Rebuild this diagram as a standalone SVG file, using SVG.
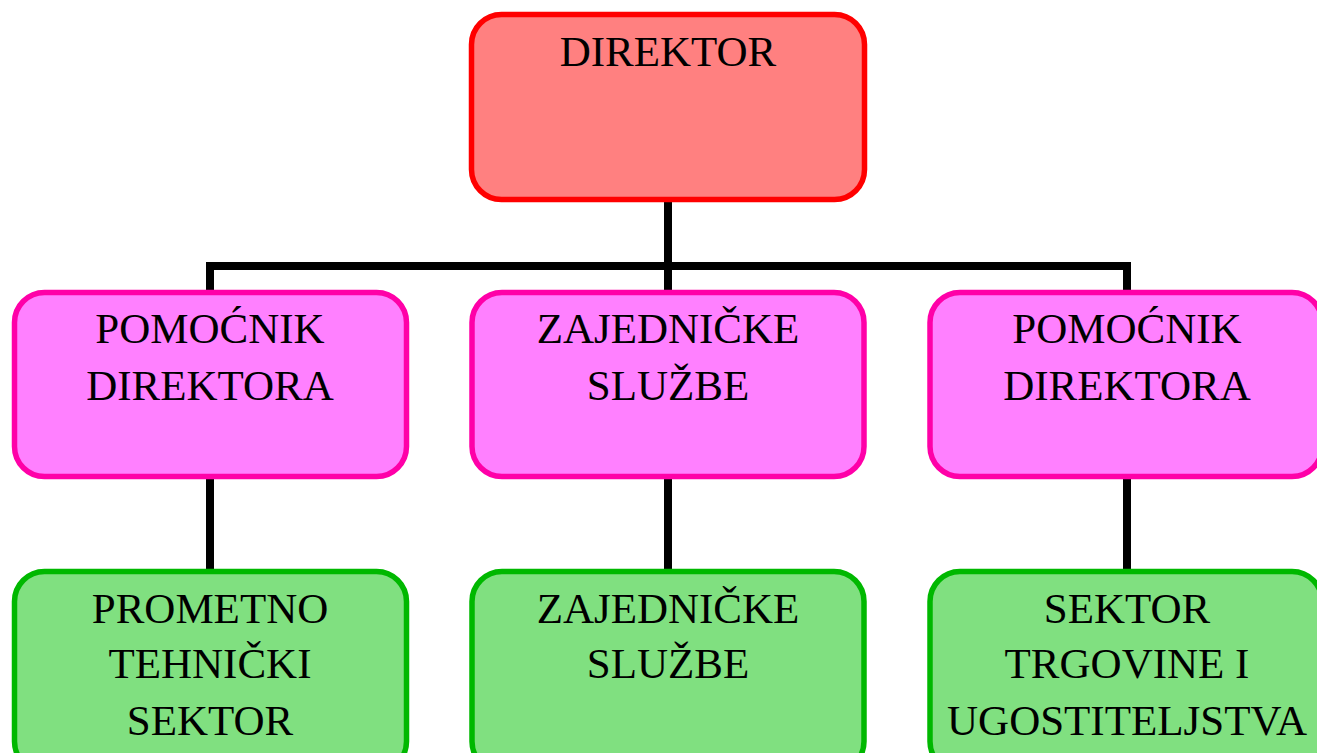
<svg xmlns="http://www.w3.org/2000/svg" width="1317" height="753" viewBox="0 0 1317 753">
<style>
  .box { stroke-width: 5.5; }
  .red { fill: #FF8080; stroke: #FF0000; }
  .pink { fill: #FF80FF; stroke: #FF00A8; }
  .green { fill: #80E080; stroke: #00B800; }
  .t { font-family: "Liberation Serif", "Times New Roman", serif; font-size: 43px; fill: #000; text-anchor: middle; }
  .c { stroke: #000; stroke-width: 8; fill: none; }
</style>
<rect width="1317" height="753" fill="#FFFFFF"/>
<g id="connectors">
  <path class="c" d="M668 201 V266 M210 292 V266 H1127 V292 M668 266 V292"/>
  <path class="c" d="M210 476 V571 M668 476 V571 M1127 476 V571"/>
</g>
<g id="director">
  <rect class="box red" x="471.5" y="14.5" width="393" height="185" rx="30"/>
  <text class="t" x="668" y="66">DIREKTOR</text>
</g>
<g id="pomocnik1">
  <rect class="box pink" x="14.5" y="292.5" width="392" height="184" rx="30"/>
  <text class="t" x="210" y="343">POMOĆNIK</text>
  <text class="t" x="210" y="400">DIREKTORA</text>
</g>
<g id="zajednicke1">
  <rect class="box pink" x="472" y="292.5" width="392" height="184" rx="30"/>
  <text class="t" x="668" y="343">ZAJEDNIČKE</text>
  <text class="t" x="668" y="400">SLUŽBE</text>
</g>
<g id="pomocnik2">
  <rect class="box pink" x="930" y="292.5" width="392" height="184" rx="30"/>
  <text class="t" x="1127" y="343">POMOĆNIK</text>
  <text class="t" x="1127" y="400">DIREKTORA</text>
</g>
<g id="prometno">
  <rect class="box green" x="14.5" y="571.5" width="392" height="200" rx="30"/>
  <text class="t" x="210" y="623">PROMETNO</text>
  <text class="t" x="210" y="678">TEHNIČKI</text>
  <text class="t" x="210" y="735">SEKTOR</text>
</g>
<g id="zajednicke2">
  <rect class="box green" x="472" y="571.5" width="392" height="200" rx="30"/>
  <text class="t" x="668" y="623">ZAJEDNIČKE</text>
  <text class="t" x="668" y="678">SLUŽBE</text>
</g>
<g id="sektor">
  <rect class="box green" x="930" y="571.5" width="392" height="200" rx="30"/>
  <text class="t" x="1127" y="623">SEKTOR</text>
  <text class="t" x="1127" y="678">TRGOVINE I</text>
  <text class="t" x="1127" y="735">UGOSTITELJSTVA</text>
</g>
</svg>
